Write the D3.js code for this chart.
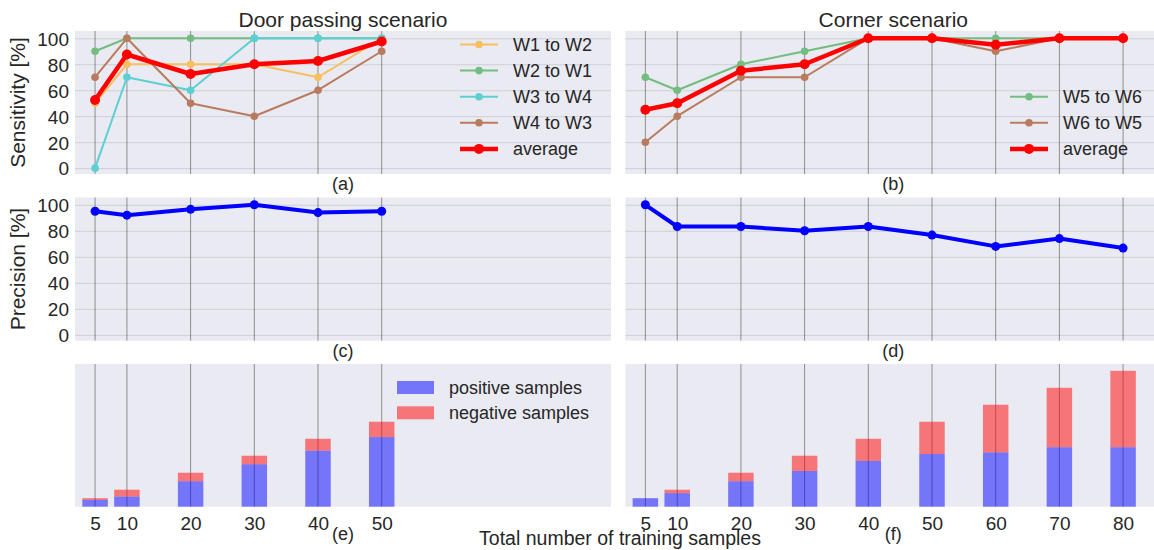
<!DOCTYPE html>
<html>
<head>
<meta charset="utf-8">
<script src="https://cdn.jsdelivr.net/npm/d3@7"></script>
<style>
  body { margin: 0; background: #fff; }
  svg text { font-family: "Liberation Sans", Arial, sans-serif; fill: #262626; }
</style>
</head>
<body>
<div id="chart"></div>
<script>
// ---- data ----
var doorSamples = [5, 10, 20, 30, 40, 50];
var cornerSamples = [5, 10, 20, 30, 40, 50, 60, 70, 80];
var percentTicks = [0, 20, 40, 60, 80, 100];

var w1ToW2 = [50, 80, 80, 80, 70, 100];
var w2ToW1 = [90, 100, 100, 100, 100, 100];
var w3ToW4 = [0, 70, 60, 100, 100, 100];
var w4ToW3 = [70, 100, 50, 40, 60, 90];
var doorAverage = [52.5, 87.5, 72.5, 80, 82.5, 97.5];

var w5ToW6 = [70, 60, 80, 90, 100, 100, 100, 100, 100];
var w6ToW5 = [20, 40, 70, 70, 100, 100, 90, 100, 100];
var cornerAverage = [45, 50, 75, 80, 100, 100, 95, 100, 100];

var doorPrecision = [95, 92, 96.5, 100, 94, 95];
var cornerPrecision = [100, 83.3, 83.3, 80, 83.3, 76.7, 68, 74, 66.7];

var doorPositive = [4, 6, 15, 25, 33, 41];
var doorNegative = [1, 4, 5, 5, 7, 9];
var cornerPositive = [5, 8, 15, 21, 27, 31, 32, 35, 35];
var cornerNegative = [0, 2, 5, 9, 13, 19, 28, 35, 45];

// ---- layout ----
var svg = d3.select("#chart")
    .append("svg")
    .attr("width", 1154)
    .attr("height", 550);

var cols = [[75, 611], [625.3, 1161.3]];
var rows = [[31, 174], [197.5, 340.7], [364, 506.7]];

var bg = "#eaeaf2";

function xScale(col) {
    return d3.scaleLinear().domain([1.85, 86]).range(cols[col]);
}
function pctScale(row) {
    return d3.scaleLinear().domain([-4.5, 105.6]).range([rows[row][1], rows[row][0]]);
}
var countScale = d3.scaleLinear().domain([0, 84]).range([rows[2][1], rows[2][0]]);

// clip for the right column, which runs off the image
svg.append("defs").append("clipPath").attr("id", "clipR")
    .append("rect").attr("x", 0).attr("y", 0).attr("width", 1154).attr("height", 550);

function panel(col, row, xs, yScale, withHGrid, withYLabels) {
    var x = xScale(col);
    var g = svg.append("g").attr("clip-path", "url(#clipR)");
    g.append("rect")
        .attr("x", cols[col][0]).attr("y", rows[row][0])
        .attr("width", cols[col][1] - cols[col][0])
        .attr("height", rows[row][1] - rows[row][0])
        .attr("fill", bg);
    if (withHGrid) {
        g.append("g")
            .attr("transform", "translate(" + cols[col][0] + ",0)")
            .call(d3.axisLeft(yScale).tickValues(percentTicks)
                .tickSize(-(cols[col][1] - cols[col][0])).tickFormat(""))
            .call(a => a.select(".domain").remove())
            .selectAll("line").attr("stroke", "#cfcfd7").attr("stroke-width", 1);
    }
    // vertical lines at the sample counts
    g.selectAll("line.v")
        .data(xs)
        .join("line")
        .attr("x1", d => x(d)).attr("x2", d => x(d))
        .attr("y1", rows[row][0]).attr("y2", rows[row][1])
        .attr("stroke", "#000").attr("stroke-opacity", 0.4).attr("stroke-width", 1);
    if (withYLabels) {
        svg.append("g")
            .attr("transform", "translate(" + (cols[col][0] - 6) + ",0)")
            .call(d3.axisLeft(yScale).tickValues(percentTicks).tickSize(0).tickPadding(0))
            .call(a => a.select(".domain").remove())
            .selectAll("text")
            .style("font-size", "19px")
            .attr("fill", "#262626")
            .attr("dy", "0.36em");
    }
    return g;
}

function drawSeries(g, col, yScale, xs, values, color, lw, r) {
    var x = xScale(col);
    var line = d3.line().x((d, i) => x(xs[i])).y(d => yScale(d));
    g.append("path")
        .datum(values)
        .attr("d", line)
        .attr("fill", "none")
        .attr("stroke", color)
        .attr("stroke-width", lw)
        .attr("stroke-linejoin", "round");
    g.selectAll(null)
        .data(values)
        .join("circle")
        .attr("cx", (d, i) => x(xs[i]))
        .attr("cy", d => yScale(d))
        .attr("r", r)
        .attr("fill", color);
}

function legend(x0, y0, items, dy) {
    items.forEach(function (it, i) {
        var y = y0 + i * dy;
        svg.append("line")
            .attr("x1", x0).attr("x2", x0 + 38)
            .attr("y1", y).attr("y2", y)
            .attr("stroke", it.color).attr("stroke-width", it.lw);
        svg.append("circle")
            .attr("cx", x0 + 19).attr("cy", y).attr("r", it.r).attr("fill", it.color);
        svg.append("text")
            .attr("x", x0 + 53).attr("y", y).attr("dy", "0.35em")
            .style("font-size", "18px").text(it.label);
    });
}

var orange = "#f8bf5e", green = "#72bd7f", cyan = "#5bd0d3", brown = "#b97b5e";

// ---- (a) door sensitivity ----
var ya = pctScale(0);
var ga = panel(0, 0, doorSamples, ya, true, true);
drawSeries(ga, 0, ya, doorSamples, w1ToW2, orange, 2, 3.8);
drawSeries(ga, 0, ya, doorSamples, w2ToW1, green, 2, 3.8);
drawSeries(ga, 0, ya, doorSamples, w3ToW4, cyan, 2, 3.8);
drawSeries(ga, 0, ya, doorSamples, w4ToW3, brown, 2, 3.8);
drawSeries(ga, 0, ya, doorSamples, doorAverage, "#ff0000", 4.5, 5);
legend(460, 44.5, [
    { label: "W1 to W2", color: orange, lw: 2, r: 3.8 },
    { label: "W2 to W1", color: green, lw: 2, r: 3.8 },
    { label: "W3 to W4", color: cyan, lw: 2, r: 3.8 },
    { label: "W4 to W3", color: brown, lw: 2, r: 3.8 },
    { label: "average", color: "#ff0000", lw: 4.5, r: 5 }
], 26.1);

// ---- (b) corner sensitivity ----
var yb = pctScale(0);
var gb = panel(1, 0, cornerSamples, yb, true, false);
drawSeries(gb, 1, yb, cornerSamples, w5ToW6, green, 2, 3.8);
drawSeries(gb, 1, yb, cornerSamples, w6ToW5, brown, 2, 3.8);
drawSeries(gb, 1, yb, cornerSamples, cornerAverage, "#ff0000", 4.5, 5);
legend(1010, 96.7, [
    { label: "W5 to W6", color: green, lw: 2, r: 3.8 },
    { label: "W6 to W5", color: brown, lw: 2, r: 3.8 },
    { label: "average", color: "#ff0000", lw: 4.5, r: 5 }
], 26.1);

// ---- (c), (d) precision ----
var yc = pctScale(1);
var gc = panel(0, 1, doorSamples, yc, true, true);
drawSeries(gc, 0, yc, doorSamples, doorPrecision, "#0000ff", 4, 4.5);
var gd = panel(1, 1, cornerSamples, yc, true, false);
drawSeries(gd, 1, yc, cornerSamples, cornerPrecision, "#0000ff", 4, 4.5);

// ---- (e), (f) sample counts ----
function bars(col, xs, pos, neg) {
    var x = xScale(col);
    var g = panel(col, 2, xs, countScale, false, false);
    var bw = x(4) - x(0);
    g.selectAll(null)
        .data(pos)
        .join("rect")
        .attr("x", (d, i) => x(xs[i]) - bw / 2)
        .attr("y", d => countScale(d))
        .attr("width", bw)
        .attr("height", d => countScale(0) - countScale(d))
        .attr("fill", "#0000ff").attr("fill-opacity", 0.5);
    g.selectAll(null)
        .data(neg)
        .join("rect")
        .attr("x", (d, i) => x(xs[i]) - bw / 2)
        .attr("y", (d, i) => countScale(pos[i] + d))
        .attr("width", bw)
        .attr("height", d => countScale(0) - countScale(d))
        .attr("fill", "#ff0000").attr("fill-opacity", 0.5);
    svg.append("g")
        .attr("transform", "translate(0," + (rows[2][1] + 9) + ")")
        .call(d3.axisBottom(x).tickValues(xs).tickSize(0).tickPadding(0))
        .call(a => a.select(".domain").remove())
        .selectAll("text")
        .style("font-size", "19px")
        .attr("fill", "#262626")
        .attr("dy", "0.75em");
}
bars(0, doorSamples, doorPositive, doorNegative);
bars(1, cornerSamples, cornerPositive, cornerNegative);

// bar legend
[["positive samples", "#0000ff"], ["negative samples", "#ff0000"]].forEach(function (it, i) {
    var y = 387.5 + i * 25.3;
    svg.append("rect")
        .attr("x", 397).attr("y", y - 6.5).attr("width", 37).attr("height", 13)
        .attr("fill", it[1]).attr("fill-opacity", 0.5);
    svg.append("text")
        .attr("x", 449).attr("y", y).attr("dy", "0.35em")
        .style("font-size", "18px").text(it[0]);
});

// ---- texts ----
function label(x, y, txt, size, rotate) {
    var t = svg.append("text")
        .attr("text-anchor", "middle")
        .style("font-size", size + "px")
        .text(txt);
    if (rotate) t.attr("transform", "translate(" + x + "," + y + ") rotate(-90)");
    else t.attr("x", x).attr("y", y);
}
var cA = (cols[0][0] + cols[0][1]) / 2, cB = (cols[1][0] + cols[1][1]) / 2;
label(cA, 26.5, "Door passing scenario", 21);
label(cB, 26.5, "Corner scenario", 21);
label(25, (rows[0][0] + rows[0][1]) / 2, "Sensitivity [%]", 21, true);
label(25, (rows[1][0] + rows[1][1]) / 2, "Precision [%]", 21, true);
label(cA, 190, "(a)", 18);
label(cB, 190, "(b)", 18);
label(cA, 357, "(c)", 18);
label(cB, 357, "(d)", 18);
label(cA, 540, "(e)", 18);
label(cB, 540, "(f)", 18);
label(620, 545, "Total number of training samples", 19.5);
</script>
</body>
</html>
